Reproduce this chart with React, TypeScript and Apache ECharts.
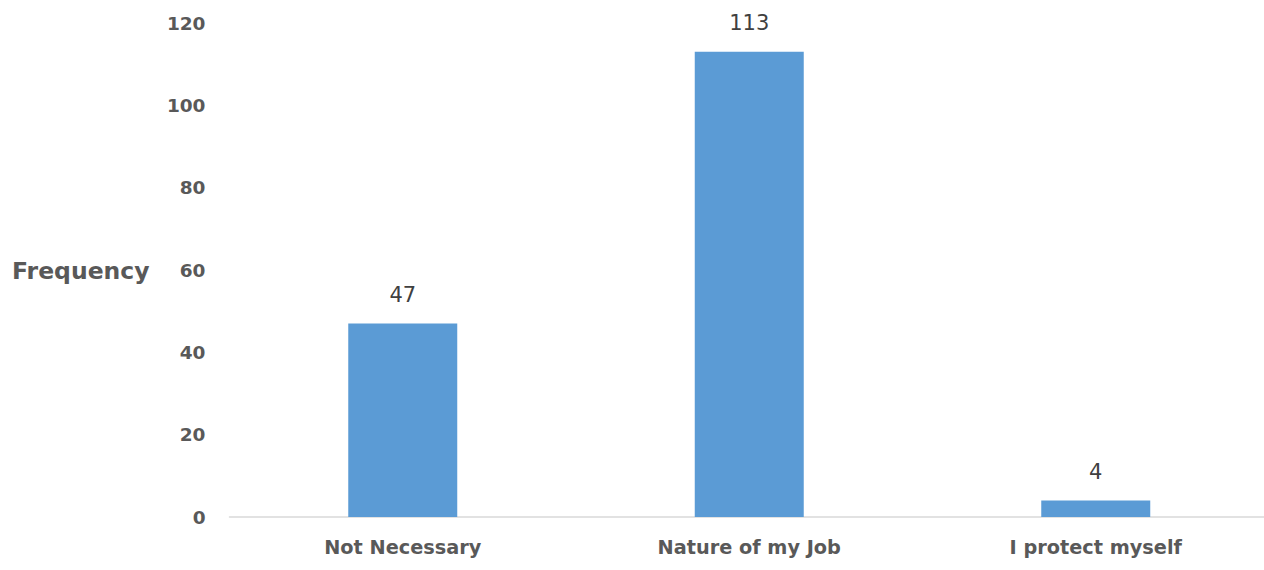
import React, { useEffect, useRef } from "react";
import * as echarts from "echarts";

const categories = ["Not Necessary", "Nature of my Job", "I protect myself"];
const frequency = [47, 113, 4];
const yTicks = { min: 0, max: 120, interval: 20 };
const yTitle = "Frequency";

export default function App() {
  const ref = useRef<HTMLDivElement>(null);
  useEffect(() => {
    if (!ref.current) return;
    const chart = echarts.init(ref.current, null, { renderer: "svg" });
    const font = "'DejaVu Sans', 'Noto Sans', sans-serif";
    chart.setOption({
      animation: false,
      backgroundColor: "#ffffff",
      grid: { left: 229.5, top: 23, width: 1039.5, height: 494, containLabel: false },
      xAxis: {
        type: "category",
        data: categories,
        axisLine: { show: true, lineStyle: { color: "#d9d9d9", width: 1.5 } },
        axisTick: { show: false },
        axisLabel: {
          color: "#595959",
          fontFamily: font,
          fontWeight: "bold",
          fontSize: 19.3,
          margin: 21,
        },
      },
      yAxis: {
        type: "value",
        min: yTicks.min,
        max: yTicks.max,
        interval: yTicks.interval,
        splitLine: { show: false },
        axisLine: { show: false },
        axisTick: { show: false },
        axisLabel: {
          color: "#595959",
          fontFamily: font,
          fontWeight: "bold",
          fontSize: 18.5,
          margin: 24,
        },
      },
      graphic: [
        {
          type: "text",
          x: 12,
          y: 271,
          style: {
            text: yTitle,
            fill: "#595959",
            font: `bold 23.5px ${font}`,
            textVerticalAlign: "middle",
          },
        },
      ],
      series: [
        {
          type: "bar",
          data: frequency,
          barWidth: 109,
          itemStyle: { color: "#5b9bd5" },
          label: {
            show: true,
            position: "top",
            distance: 18,
            color: "#404040",
            fontFamily: font,
            fontSize: 21,
          },
        },
      ],
    });
    return () => chart.dispose();
  }, []);
  return (
    <div
      style={{
        position: "fixed",
        left: 0,
        top: 0,
        width: 1264,
        height: 570,
        overflow: "hidden",
        background: "#ffffff",
      }}
    >
      <div ref={ref} style={{ width: 1290, height: 570 }} />
    </div>
  );
}
